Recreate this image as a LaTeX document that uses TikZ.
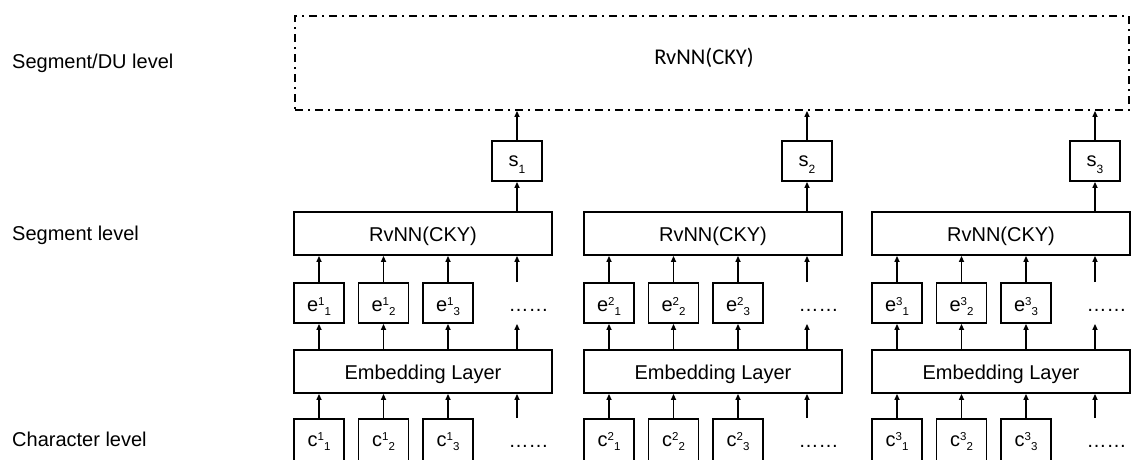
\documentclass[tikz,border=0pt]{standalone}
\usepackage{fontspec}
\setmainfont{Liberation Sans}
\newfontfamily\carlito{Carlito}
\usetikzlibrary{arrows.meta, positioning}
\newcommand\supsub[3]{#1\raisebox{6pt}{\fontsize{11.5}{12}\selectfont #2}\raisebox{-4pt}{\fontsize{11.5}{12}\selectfont #3}}
\newcommand\subonly[2]{#1\raisebox{-6.5pt}{\fontsize{12}{12}\selectfont #2}}

\begin{document}
\begin{tikzpicture}[
  x=1pt, y=-1pt,
  font=\fontsize{20}{24}\selectfont,
  layer/.style={draw, line width=1.8pt, minimum width=258pt, minimum height=43pt,
                inner sep=0pt, text height=17pt, text depth=1pt},
  unit/.style={draw, line width=1.8pt, minimum width=50pt, minimum height=40pt,
               inner sep=0pt, text height=17pt, text depth=1pt},
  sunit/.style={unit, text height=14pt, text depth=3pt},
  cunit/.style={unit, minimum height=46pt, text height=10pt, text depth=2pt},
  dotx/.style={inner sep=0pt, text height=17pt, text depth=1pt},
  arr/.style={-{Triangle[length=6pt, width=5pt]}, line width=1.5pt},
  lvl/.style={anchor=base west, inner sep=0pt},
  dubox/.style={draw, line width=1.8pt, dash pattern=on 8pt off 5pt on 2pt off 5pt,
                minimum width=834pt, minimum height=94pt}
]
\useasboundingbox (0,0) rectangle (1133,459);

%% ---- level names ----
\node[lvl] (duLvl)  at (12,68)  {Segment/DU level};
\node[lvl] (segLvl) at (12,240) {Segment level};
\node[lvl] (chrLvl) at (12,446) {Character level};

%% ---- top: RvNN over the segments ----
\node[dubox] (du) at (712,63) {};
\node[font=\carlito\fontsize{22.5}{27}\selectfont, anchor=base] (duTxt) at (704,64.5) {RvNN(CKY)};

%% ---- one block per segment ----
\foreach \g/\gx in {1/293, 2/583, 3/871} {
  \node[layer] (rvnn\g) at (\gx+130, 233.5) {RvNN(CKY)};
  \node[layer] (emb\g)  at (\gx+130, 371.5) {Embedding Layer};
  \node[sunit] (s\g)    at (\gx+224, 161)   {\subonly{s}{\g}};
  \coordinate  (col\g)  at (\gx+224, 0);
  \node[dotx]  (edots\g) at (\gx+235.5, 303) {……};
  \node[dotx]  (cdots\g) at (\gx+235.5, 439) {……};

  \foreach \i/\dx in {1/26, 2/90.5, 3/155} {
    \node[unit]  (e\g\i) at (\gx+\dx, 303) {\supsub{e}{\g}{\i}};
    \node[cunit] (c\g\i) at (\gx+\dx, 442) {\supsub{c}{\g}{\i}};
    \draw[arr] (c\g\i) -- (c\g\i |- emb\g.south);
    \draw[arr] (e\g\i |- emb\g.north) -- (e\g\i);
    \draw[arr] (e\g\i) -- (e\g\i |- rvnn\g.south);
  }

  \draw[arr] (col\g |- c\g1.north)   -- (col\g |- emb\g.south);
  \draw[arr] (col\g |- emb\g.north)  -- (col\g |- e\g1.south);
  \draw[arr] (col\g |- e\g1.north)   -- (col\g |- rvnn\g.south);
  \draw[arr] (s\g |- rvnn\g.north)   -- (s\g);
  \draw[arr] (s\g) -- (s\g |- du.south);
}

\end{tikzpicture}
\end{document}
